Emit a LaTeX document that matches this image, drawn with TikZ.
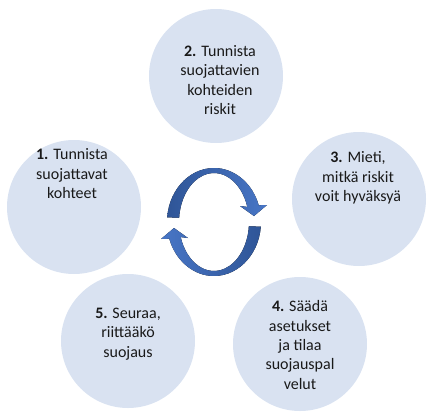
\documentclass[tikz,border=0pt]{standalone}
\usepackage{fontspec}
\setmainfont{Carlito}
\definecolor{ballfill}{RGB}{217,226,241}
\definecolor{arrowdark}{RGB}{47,85,151}
\definecolor{arrowlight}{RGB}{72,118,198}
\begin{document}
\begin{tikzpicture}[x=0.75pt,y=0.75pt,
ball/.style={circle,fill=ballfill,minimum size=100.5pt,inner sep=0pt},
txt/.style={align=center,font=\fontsize{12}{14.6}\selectfont,text=black!90}]
\useasboundingbox (0,0) rectangle (435,419);
\node[ball] (c1) at (74,212) {};
\node[ball] (c2) at (216,343) {};
\node[ball] (c3) at (359,220) {};
\node[ball] (c4) at (300,75) {};
\node[ball] (c5) at (128,78) {};
\node[txt] (t1) at (72,245) {\textbf{1.} Tunnista\\suojattavat\\kohteet};
\node[txt] (t2) at (220,339) {\textbf{2.} Tunnista\\suojattavien\\kohteiden\\riskit};
\node[txt] (t3) at (358,241) {\textbf{3.} Mieti,\\mitkä riskit\\voit hyväksyä};
\node[txt] (t4) at (300,74) {\textbf{4.} Säädä\\asetukset\\ja tilaa\\suojauspal\\velut};
\node[txt] (t5) at (128,85) {\textbf{5.} Seuraa,\\riittääkö\\suojaus};
% kierto
\foreach \a/\cl/\cr in {0/arrowdark/arrowlight,180/arrowlight/arrowdark}
{
\fill[left color=\cl,right color=\cr,rotate around={\a:(214,197)}]
 (167.2,201.7) arc[start angle=175,end angle=18,x radius=47,y radius=54]
 -- (267,214) -- (254,203) -- (240,213) -- (247.3,212.1)
 arc[start angle=18,end angle=175,x radius=35,y radius=49] -- cycle;
}
\end{tikzpicture}
\end{document}
